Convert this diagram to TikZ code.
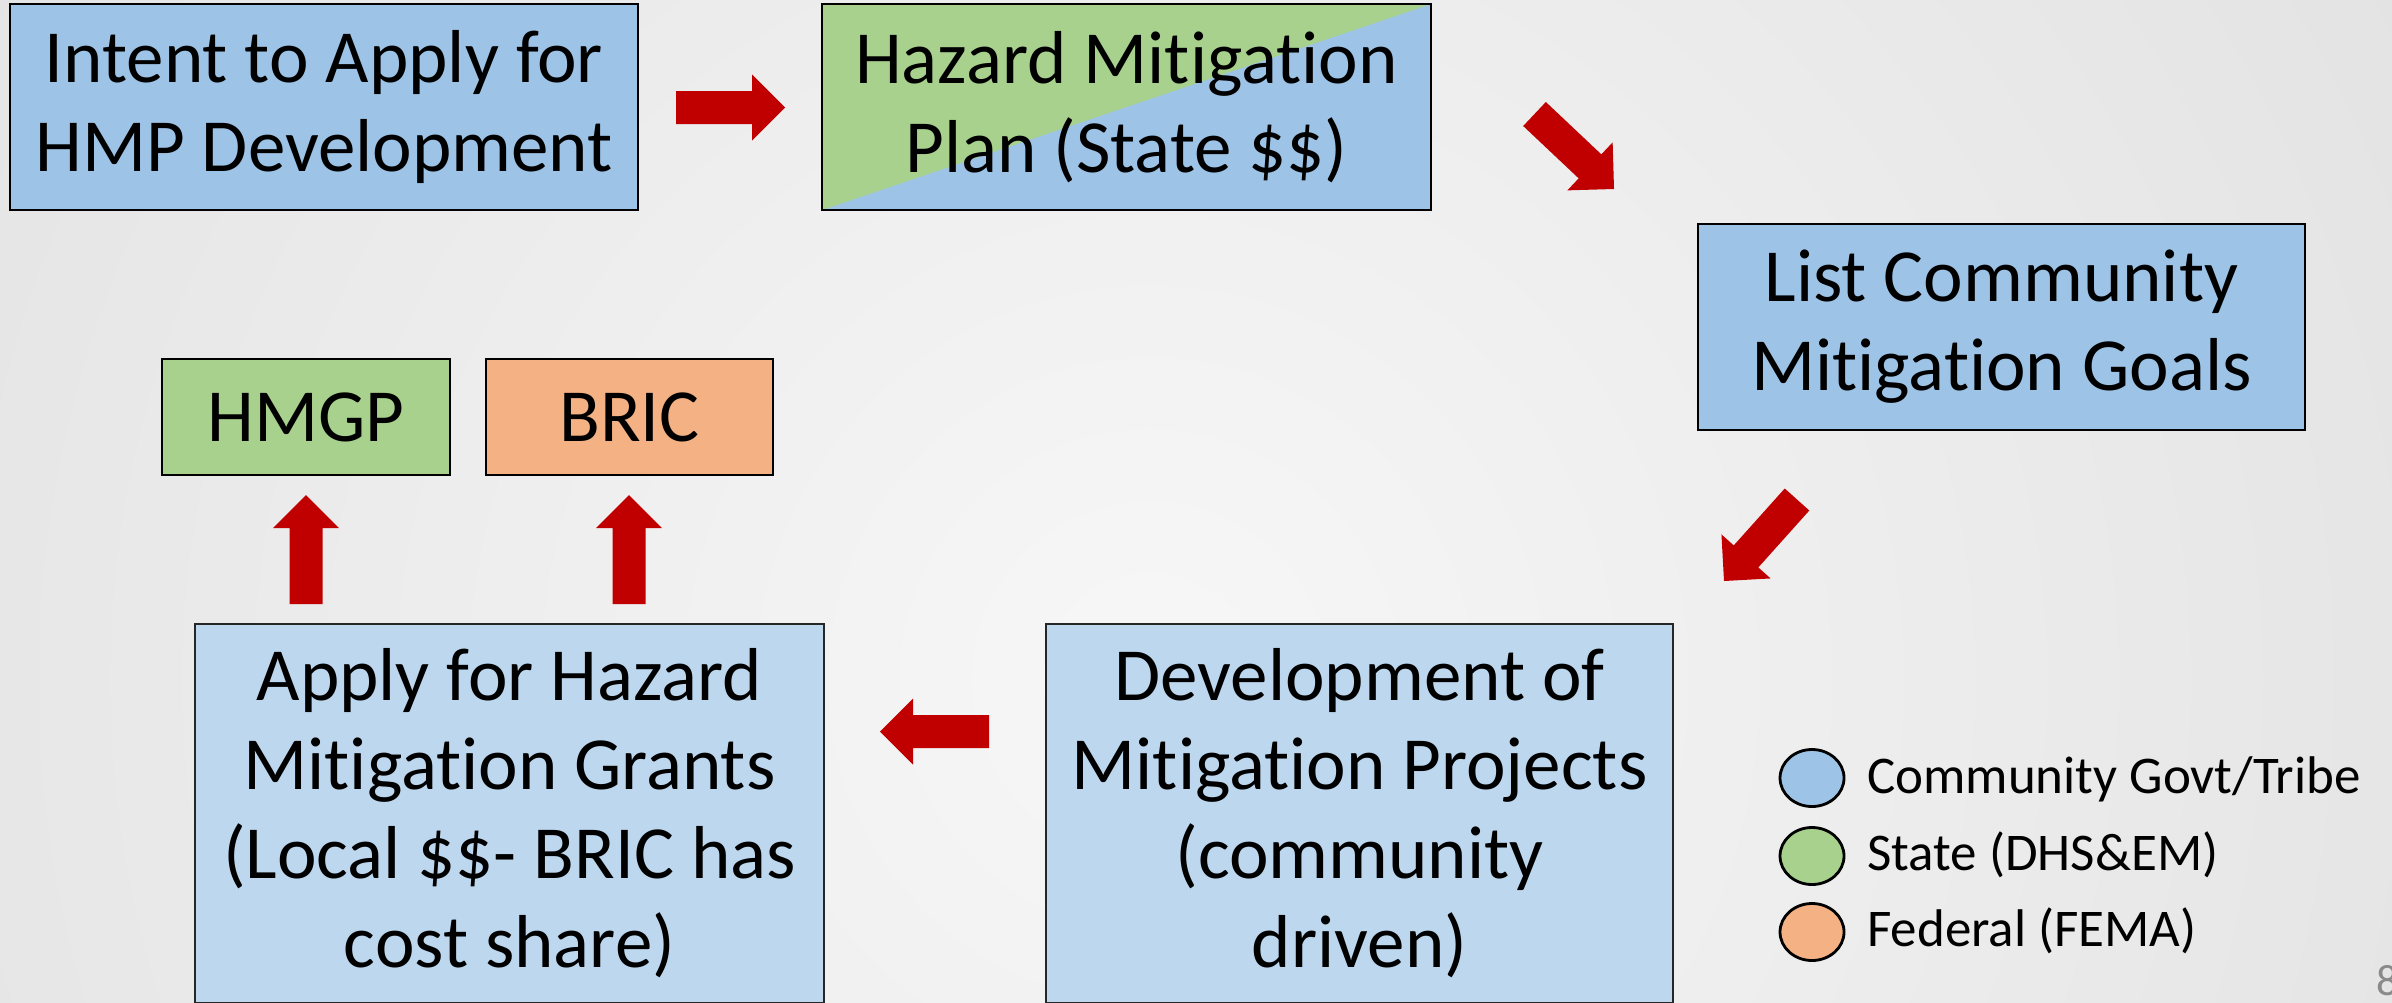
\documentclass[tikz,border=0pt]{standalone}
\usepackage{fontspec}
\setmainfont{Carlito}[Ligatures={NoCommon}]
\usetikzlibrary{calc,shapes.geometric}

\definecolor{communityblue}{HTML}{9DC3E6}
\definecolor{paleblue}{HTML}{BDD7EE}
\definecolor{stategreen}{HTML}{A9D18E}
\definecolor{federalorange}{HTML}{F4B183}
\definecolor{arrowred}{HTML}{C00000}
\definecolor{pagegray}{HTML}{8A8A8A}
\definecolor{bginner}{HTML}{F7F7F7}
\definecolor{bgouter}{HTML}{E0E0E0}

% Block arrow from tail point #1 to tip point #2 (shaft 33, head 33 long, 66 wide)
\newcommand\blockarr[2]{%
  \coordinate (ba-b) at ($(#2)!33pt!(#1)$);
  \fill[arrowred] ($(#1)!16.5pt!90:(#2)$) -- ($(ba-b)!16.5pt!90:(#2)$)
    -- ($(ba-b)!33pt!90:(#2)$) -- (#2) -- ($(ba-b)!33pt!-90:(#2)$)
    -- ($(ba-b)!16.5pt!-90:(#2)$) -- ($(#1)!16.5pt!-90:(#2)$) -- cycle;}

\begin{document}
\begin{tikzpicture}[x=1pt,y=-1pt,
  bigtext/.style={font=\fontsize{75}{89}\selectfont, align=center, inner sep=0pt},
  topbox/.style={bigtext, draw=black, line width=2.6pt, fill=communityblue},
  lowbox/.style={bigtext, draw=black!85, line width=1.6pt, fill=paleblue},
  grantbox/.style={bigtext, draw=black, line width=2.4pt},
  legdot/.style={ellipse, draw=black, line width=2.8pt, minimum width=64pt, minimum height=57pt, inner sep=0pt},
  legtext/.style={font=\fontsize{53}{62}\selectfont, anchor=base west, inner sep=0pt}]

\useasboundingbox (0,0) rectangle (2392,1002);
\clip (0,0) rectangle (2392,1002);

% slide background
\fill[bgouter] (0,0) rectangle (2392,1002);
\shade[inner color=bginner, outer color=bgouter] (1150,680) circle (1650);

% process boxes
\node[topbox, minimum width=628pt, minimum height=206pt] (intent) at (324,107)
  {Intent to Apply for\\HMP Development};
\node[topbox, minimum width=609pt, minimum height=206pt,
  path picture={\fill[stategreen] (path picture bounding box.south west)
    -- (path picture bounding box.north west)
    -- (path picture bounding box.north east) -- cycle;}] (plan) at (1126.5,107)
  {Hazard Mitigation\\Plan (State \$\$)};
\node[topbox, minimum width=607pt, minimum height=206pt] (goals) at (2001.5,327)
  {List Community\\Mitigation Goals};
\node[lowbox, minimum width=627pt, minimum height=379pt] (projects) at (1359.5,813.5)
  {Development of\\Mitigation Projects\\(community\\driven)};
\node[lowbox, minimum width=629pt, minimum height=379pt] (apply) at (509.5,813.5)
  {Apply for Hazard\\Mitigation Grants\\(Local \$\$- BRIC has\\cost share)};
\node[grantbox, fill=stategreen, minimum width=288pt, minimum height=116pt] (hmgp) at (306,417) {HMGP};
\node[grantbox, fill=federalorange, minimum width=287pt, minimum height=116pt] (bric) at (629.5,417) {BRIC};

% arrow ends
\coordinate (a1s) at (676,107.5);   \coordinate (a1e) at (785,107.5);
\coordinate (a2s) at (1534.5,114);  \coordinate (a2e) at (1614,189);
\coordinate (a3s) at (1797,499.5);  \coordinate (a3e) at (1724,581);
\coordinate (a4s) at (989,731.5);   \coordinate (a4e) at (880,731.5);
\coordinate (a5s) at (306,604);     \coordinate (a5e) at (306,495);
\coordinate (a6s) at (629,604);     \coordinate (a6e) at (629,495);

\blockarr{a1s}{a1e}
\blockarr{a2s}{a2e}
\blockarr{a3s}{a3e}
\blockarr{a4s}{a4e}
\blockarr{a5s}{a5e}
\blockarr{a6s}{a6e}

% legend
\node[legdot, fill=communityblue] (leg1) at (1812,778) {};
\node[legdot, fill=stategreen] (leg2) at (1812,856) {};
\node[legdot, fill=federalorange] (leg3) at (1812,932) {};
\node[legtext] (leg1t) at (1867,793) {Community Govt/Tribe};
\node[legtext] (leg2t) at (1867,870) {State (DHS\&EM)};
\node[legtext] (leg3t) at (1867,946) {Federal (FEMA)};

% page number
\node[font=\fontsize{44}{50}\selectfont, text=pagegray, anchor=base west, inner sep=0pt] (pagenum) at (2376,995) {8};
\end{tikzpicture}
\end{document}
